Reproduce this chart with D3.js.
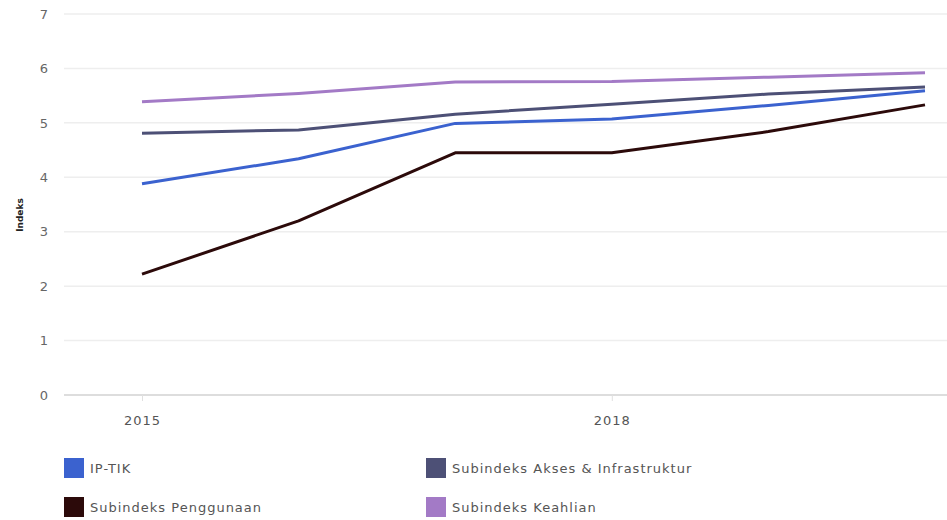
<!DOCTYPE html>
<html><head><meta charset="utf-8">
<script src="https://cdn.jsdelivr.net/npm/d3@7"></script>
<style>body{margin:0;background:#fff}svg{display:block;font-family:"DejaVu Sans",Verdana,sans-serif}</style>
</head><body><svg id="c" width="947" height="520"></svg>
<script>
const years = [2015, 2016, 2017, 2018, 2019, 2020];
const ipTik = [3.88, 4.34, 4.99, 5.07, 5.32, 5.59];
const akses = [4.81, 4.87, 5.16, 5.34, 5.53, 5.66];
const penggunaan = [2.22, 3.20, 4.45, 4.45, 4.84, 5.33];
const keahlian = [5.39, 5.54, 5.75, 5.76, 5.84, 5.92];
const seriesNames = ["IP-TIK", "Subindeks Akses & Infrastruktur", "Subindeks Penggunaan", "Subindeks Keahlian"];
const seriesColors = ["#3b62cf", "#4d5076", "#2c0a0a", "#a37ac6"];
const yTicks = [0, 1, 2, 3, 4, 5, 6, 7];
const xTickLabels = [2015, 2018];

const series = [ipTik, akses, penggunaan, keahlian];
const svg = d3.select("#c");
const x = d3.scaleLinear().domain([2015, 2020]).range([142, 925]);
const y = d3.scaleLinear().domain([0, 7]).range([395, 14]);

// gridlines
svg.append("g").selectAll("line").data(yTicks.filter(d => d > 0)).join("line")
  .attr("x1", 64).attr("x2", 947).attr("y1", d => y(d)).attr("y2", d => y(d))
  .attr("stroke", "#eeeeee").attr("stroke-width", 1.5);

// y axis labels
const ya = svg.append("g").attr("transform", "translate(48,0)")
  .call(d3.axisLeft(y).tickValues(yTicks).tickSize(0).tickPadding(0).tickFormat(d3.format("d")));
ya.select(".domain").remove();
ya.selectAll("text").attr("fill", "#666").attr("font-size", 13).attr("font-family", "DejaVu Sans");

// x axis
const xa = svg.append("g").attr("transform", "translate(0,395)")
  .call(d3.axisBottom(x).tickValues(xTickLabels).tickSize(6).tickPadding(15).tickFormat(d3.format("d")));
xa.select(".domain").attr("d", "M64,0H947").attr("stroke", "#dddddd").attr("stroke-width", 2);
xa.selectAll(".tick line").attr("stroke", "#e0e0e0");
xa.selectAll("text").attr("fill", "#555").attr("font-size", 13).attr("font-family", "DejaVu Sans")
  .attr("letter-spacing", 1);

// y title
svg.append("text").attr("transform", "translate(23,215) rotate(-90)")
  .attr("text-anchor", "middle").attr("font-size", 9).attr("font-weight", "bold").attr("fill", "#222")
  .text("Indeks");

// lines
const line = d3.line().x((d, i) => x(years[i])).y(d => y(d));
svg.append("g").selectAll("path").data(series).join("path")
  .attr("d", line).attr("fill", "none")
  .attr("stroke", (d, i) => seriesColors[i]).attr("stroke-width", 3)
  .attr("stroke-linejoin", "round");

// legend
const legPos = [[64, 458], [426, 458], [64, 497], [426, 497]];
const legOrder = [0, 1, 2, 3];
const lg = svg.append("g").selectAll("g").data(legOrder).join("g")
  .attr("transform", (d, i) => `translate(${legPos[i][0]},${legPos[i][1]})`);
lg.append("rect").attr("width", 20).attr("height", 20).attr("fill", d => seriesColors[d]);
lg.append("text").attr("x", 26).attr("y", 15).attr("font-size", 13).attr("fill", "#555")
  .attr("letter-spacing", 1)
  .text(d => seriesNames[d]);
</script></body></html>
